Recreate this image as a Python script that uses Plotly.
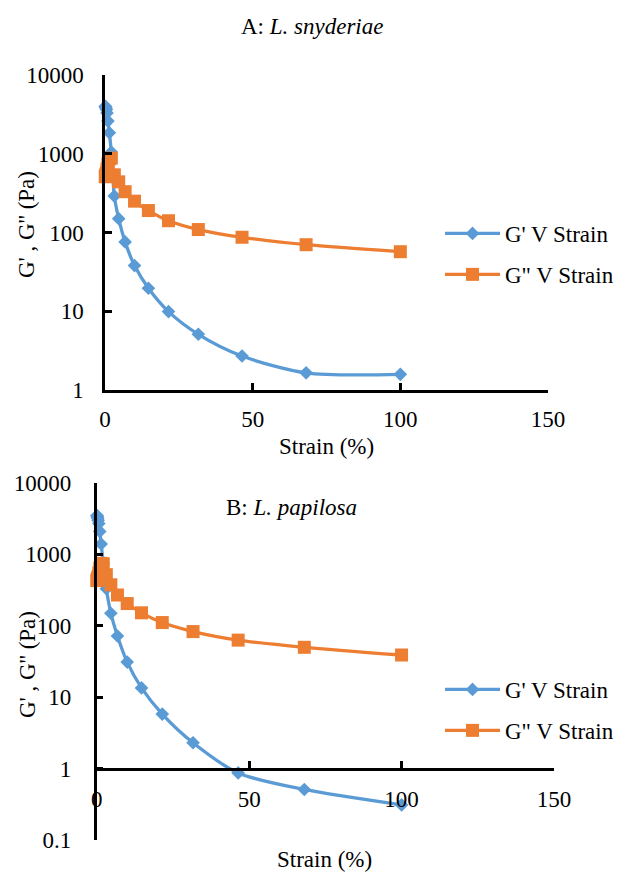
import plotly.graph_objects as go

# ---- data ----
strain = [0.1, 0.147, 0.215, 0.316, 0.464, 0.681, 1.0, 1.47, 2.15, 3.16, 4.64,
          6.81, 10.0, 14.7, 21.5, 31.6, 46.4, 68.1, 100.0]
gp_A = [4000, 3950, 3900, 3800, 3650, 3300, 2600, 1850, 1050, 290, 150,
        76, 38, 19.6, 9.9, 5.1, 2.7, 1.65, 1.58]
gpp_A = [510, 515, 525, 540, 570, 640, 740, 860, 880, 540, 440,
         330, 250, 190, 141, 109, 87, 70, 57]
gp_B = [3500, 3450, 3350, 3200, 3000, 2700, 2100, 1400, 750, 330, 150,
        72, 31, 13.5, 5.8, 2.3, 0.87, 0.51, 0.31]
gpp_B = [430, 435, 445, 460, 490, 550, 640, 750, 740, 520, 375,
         270, 205, 152, 111, 83, 63, 50, 39]

x_ticks = [0, 50, 100, 150]
y_ticks_A = [1, 10, 100, 1000, 10000]
y_labels_A = ["1", "10", "100", "1000", "10000"]
y_ticks_B = [0.1, 1, 10, 100, 1000, 10000]
y_labels_B = ["0.1", "1", "10", "100", "1000", "10000"]

name_gp = "G' V Strain"
name_gpp = 'G" V Strain'
title_A = "A: <i>L. snyderiae</i>"
title_B = "B: <i>L. papilosa</i>"
x_title = "Strain (%)"
y_title = "G' , G'' (Pa)"

BLUE = "#5B9BD5"
ORANGE = "#ED7D31"
FONT = "Liberation Serif, Times New Roman, serif"
FS = 23
W, H = 638, 872

def px(x):
    return x / W

def py(y):
    return 1 - y / H

fig = go.Figure()

def add_pair(xa, ya, gp, gpp, leg):
    fig.add_trace(go.Scatter(
        x=strain, y=gp, name=name_gp, xaxis=xa, yaxis=ya, legend=leg,
        legendgroup=leg + "a", mode="lines+markers", cliponaxis=False,
        line=dict(color=BLUE, width=3.3, shape="spline", smoothing=0.8),
        marker=dict(symbol="diamond", size=10.5, color=BLUE)))
    fig.add_trace(go.Scatter(
        x=strain, y=gpp, name=name_gpp, xaxis=xa, yaxis=ya, legend=leg,
        legendgroup=leg + "b", mode="lines+markers", cliponaxis=False,
        line=dict(color=ORANGE, width=3.3, shape="spline", smoothing=0.8),
        marker=dict(symbol="square", size=13, color=ORANGE)))

add_pair("x", "y", gp_A, gpp_A, "legend")
add_pair("x2", "y2", gp_B, gpp_B, "legend2")

tickfont = dict(family=FONT, size=FS, color="black")
axis_common = dict(showline=True, linecolor="black", linewidth=2.5,
                   ticks="inside", ticklen=7, tickwidth=2.5, tickcolor="black",
                   showgrid=False, zeroline=False, tickfont=tickfont,
                   automargin=False)
legfont = dict(family=FONT, size=FS, color="black")

fig.update_layout(
    width=W, height=H,
    margin=dict(l=0, r=0, t=0, b=0),
    paper_bgcolor="white", plot_bgcolor="white",
    font=dict(family=FONT, color="black"),
    xaxis=dict(domain=[px(105), px(548)], range=[0, 150], anchor="y",
               tickvals=x_ticks, ticklabelstandoff=7, **axis_common),
    yaxis=dict(domain=[py(390), py(75)], type="log", range=[0, 4], anchor="x",
               tickvals=y_ticks_A, ticktext=y_labels_A, ticklabelstandoff=14,
               **axis_common),
    xaxis2=dict(domain=[px(96.7), px(554)], range=[0, 150], anchor="free",
                position=py(769), tickvals=x_ticks, ticklabelstandoff=9,
                **axis_common),
    yaxis2=dict(domain=[py(840), py(483)], type="log", range=[-1, 4], anchor="x2",
                tickvals=y_ticks_B, ticktext=y_labels_B, ticklabelstandoff=18,
                **axis_common),
    legend=dict(x=px(440), y=py(212), xanchor="left", yanchor="top",
                font=legfont, bgcolor="rgba(0,0,0,0)", itemwidth=55,
                traceorder="grouped", tracegroupgap=8),
    legend2=dict(x=px(440), y=py(668), xanchor="left", yanchor="top",
                 font=legfont, bgcolor="rgba(0,0,0,0)", itemwidth=55,
                 traceorder="grouped", tracegroupgap=8),
    showlegend=True,
)

annots = [
    dict(text=title_A, x=px(312), y=py(27)),
    dict(text=title_B, x=px(291), y=py(508)),
    dict(text=x_title, x=px(326), y=py(447)),
    dict(text=x_title, x=px(324), y=py(859)),
    dict(text=y_title, x=px(27), y=py(225), textangle=-90),
    dict(text=y_title, x=px(27), y=py(665), textangle=-90),
]
for a in annots:
    fig.add_annotation(xref="paper", yref="paper", showarrow=False,
                       xanchor="center", yanchor="middle",
                       font=dict(family=FONT, size=FS, color="black"), **a)

fig.write_html("out.html",
               config={"displayModeBar": False},
               post_script="document.body.style.margin='0';"
                           "document.body.style.overflow='hidden';")
